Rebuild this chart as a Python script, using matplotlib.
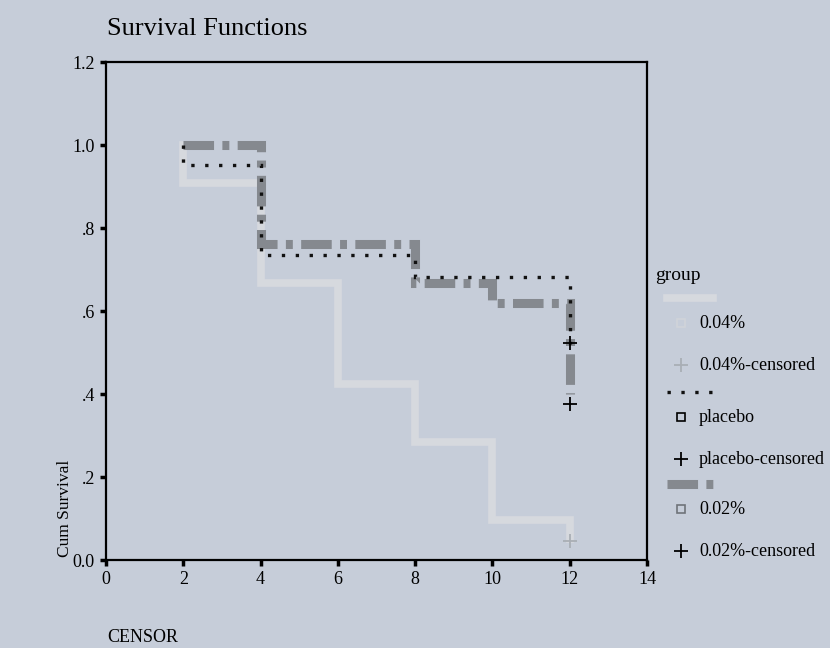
import matplotlib.pyplot as plt
from matplotlib.lines import Line2D

plt.rcParams['font.family'] = ['Liberation Serif', 'DejaVu Serif']
plt.rcParams['lines.scale_dashes'] = False

# survival step data (time, cumulative survival)
t_04 = [2, 2, 4, 6, 8, 10, 12]
s_04 = [1.0, 0.909, 0.667, 0.424, 0.284, 0.096, 0.05]
t_pl = [2, 2, 4, 8, 12]
s_pl = [1.0, 0.952, 0.735, 0.682, 0.52]
t_02 = [2, 4, 8, 10, 12]
s_02 = [1.0, 0.761, 0.667, 0.619, 0.40]

# censored points
cens_04 = ([12], [0.045])
cens_pl = ([12], [0.523])
cens_02 = ([12], [0.376])

groups = ['0.04%', 'placebo', '0.02%']
xticks = [0, 2, 4, 6, 8, 10, 12, 14]
yticks = [0.0, 0.2, 0.4, 0.6, 0.8, 1.0, 1.2]
ytick_labels = ['0.0', '.2', '.4', '.6', '.8', '1.0', '1.2']

bg = '#c6cdd9'
c_04 = '#d6d9de'
c_pl = '#111111'
c_02 = '#85898f'

fig = plt.figure(figsize=(8.3, 6.48), dpi=100)
fig.patch.set_facecolor(bg)
ax = fig.add_axes([0.1277, 0.1358, 0.6518, 0.7685])
ax.set_facecolor(bg)

ls_02 = (0, (22, 6, 5, 6))
ls_pl = (0, (2.4, 7.6))

ax.step(t_04, s_04, where='post', color=c_04, lw=5.5, solid_joinstyle='miter')
ax.step(t_02, s_02, where='post', color=c_02, lw=6.5, linestyle=ls_02,
        dash_capstyle='butt', dash_joinstyle='miter')
ax.step(t_pl, s_pl, where='post', color=c_pl, lw=2.4, linestyle=ls_pl,
        dash_capstyle='butt', dash_joinstyle='miter')

ax.plot(*cens_04, '+', color='#a9aeb5', ms=10, mew=1.3)
ax.plot(*cens_pl, '+', color='black', ms=10, mew=1.3)
ax.plot(*cens_02, '+', color='black', ms=10, mew=1.3)

ax.set_xlim(0, 14)
ax.set_ylim(0, 1.2)
ax.set_xticks(xticks)
ax.set_xticklabels([str(v) for v in xticks])
ax.set_yticks(yticks)
ax.set_yticklabels(ytick_labels)
ax.tick_params(direction='out', length=4, width=2.5, labelsize=13, pad=4)
for sp in ax.spines.values():
    sp.set_linewidth(1.6)

fig.text(0.129, 0.955, 'Survival Functions', fontsize=19, ha='left', va='center')
fig.text(0.078, 0.215, 'Cum Survival', fontsize=12.5, rotation=90,
         ha='center', va='center')
fig.text(0.129, 0.016, 'CENSOR', fontsize=13, ha='left', va='center')

# legend drawn in its own pixel-based axes
lg = fig.add_axes([650 / 830, 0, 180 / 830, 1])
lg.set_xlim(650, 830)
lg.set_ylim(648, 0)
lg.axis('off')
lg.text(655, 275, 'group', fontsize=14, va='center')

rows = [
    (298, c_04, '-', 5.5, '#d0d4d9', '#a9aeb5'),
    (392, c_pl, ls_pl, 2.4, 'black', 'black'),
    (484, c_02, ls_02, 6.5, '#6f737a', 'black'),
]
for name, (y0, col, ls, lw, sqc, pc) in zip(groups, rows):
    lg.add_line(Line2D([667, 713], [y0, y0], color=col, lw=lw, linestyle=ls,
                       dash_capstyle='butt'))
    lg.plot([681], [y0 + 25], 's', ms=6, mfc='none', mec=sqc, mew=1.2)
    lg.text(699, y0 + 26, name, fontsize=13, va='center')
    lg.plot([681], [y0 + 67], '+', ms=10, mew=1.3, color=pc)
    lg.text(699, y0 + 67, name + '-censored', fontsize=13, va='center')

fig.savefig('out.png', dpi=100, facecolor=bg)
